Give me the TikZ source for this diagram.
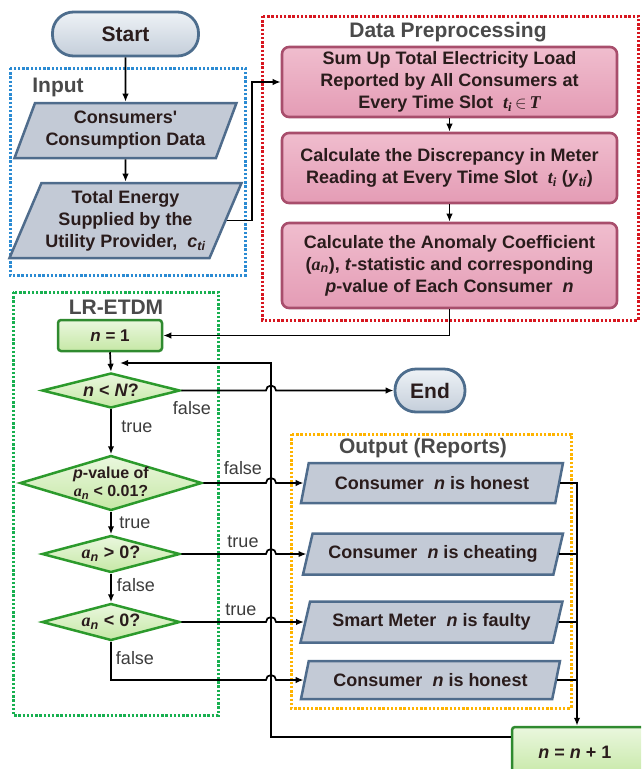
\documentclass[tikz,border=0pt]{standalone}
\usepackage{fontspec}
\setmainfont{Liberation Sans}
\newfontfamily\serfam{Liberation Serif}
\newcommand\servar[1]{{\serfam\bfseries\itshape #1}}
\usetikzlibrary{shapes.geometric,arrows.meta,calc}
\definecolor{txt}{HTML}{2A1C1C}
\definecolor{pillb}{HTML}{4D6D8D}
\definecolor{pilltop}{HTML}{EEF2F6}
\definecolor{pillbot}{HTML}{C4CEDA}
\definecolor{pgb}{HTML}{4F6C8C}
\definecolor{pgf}{HTML}{C3CAD6}
\definecolor{pkb}{HTML}{A84E6C}
\definecolor{pktop}{HTML}{F0BDCE}
\definecolor{pkbot}{HTML}{E49CB5}
\definecolor{grb}{HTML}{2C9A2C}
\definecolor{grtop}{HTML}{EAF7DE}
\definecolor{grbot}{HTML}{C6E8A6}
\definecolor{gbb}{HTML}{2F8A2F}
\definecolor{fblue}{HTML}{2B8BD3}
\definecolor{fred}{HTML}{D7161F}
\definecolor{fgreen}{HTML}{18B050}
\definecolor{forange}{HTML}{FFB400}
\definecolor{ttlc}{HTML}{4A4A4A}
\definecolor{lblc}{HTML}{3C3C3C}
\begin{document}
\begin{tikzpicture}[x=1pt,y=-1pt,
  every node/.style={text=txt, font=\bfseries\fontsize{18}{22}\selectfont, align=center, inner sep=1pt},
  pill/.style={rectangle, rounded corners=21pt, draw=pillb, line width=2.8pt, top color=pilltop, bottom color=pillbot, font=\bfseries\fontsize{21}{24}\selectfont},
  pgram/.style={trapezium, trapezium left angle=63, trapezium right angle=117, trapezium stretches body, draw=pgb, fill=pgf, line width=2.5pt},
  pinkbox/.style={rectangle, rounded corners=7pt, draw=pkb, line width=2.6pt, top color=pktop, bottom color=pkbot, minimum width=335pt},
  decbox/.style={diamond, draw=grb, line width=2.5pt, top color=grtop, bottom color=grbot, inner sep=0pt, font=\bfseries\fontsize{18}{20}\selectfont},
  gbox/.style={rectangle, rounded corners=3pt, draw=gbb, line width=2.5pt, top color=grtop, bottom color=grbot},
  dotframe/.style={line width=3pt, dash pattern=on 2.4pt off 1.8pt},
  ttl/.style={text=ttlc, font=\bfseries\fontsize{21}{24}\selectfont},
  lbl/.style={text=lblc, font=\fontsize{18}{20}\selectfont},
  arr/.style={line width=1.7pt, -{Latex[length=8pt,width=6.5pt]}},
  ln/.style={line width=1.7pt}
]
\useasboundingbox (0,0) rectangle (641,769);
\clip (0,0) rectangle (641,769);

% frames
\draw[dotframe, draw=fblue] (10,68) rectangle (245,275);
\draw[dotframe, draw=fred] (262,16) rectangle (638,320);
\draw[dotframe, draw=fgreen] (13,292) rectangle (218,715);
\draw[dotframe, draw=forange] (291,434) rectangle (571,708);

\node[ttl] (tin) at (58,87) {Input};
\node[ttl] (tdp) at (448,32) {Data Preprocessing};
\node[ttl] (tlr) at (116,307) {LR-ETDM};
\node[ttl] (tout) at (423,448) {Output (Reports)};

% coordinates
\coordinate (lx) at (271,363);
\coordinate (jx) at (252,82);
\coordinate (rx) at (577,700);
\coordinate (lend) at (120,363);

% nodes
\node[pill, minimum width=146pt, minimum height=44pt] (start) at (125.5,34) {Start};
\node[pgram, minimum width=222pt, minimum height=55pt] (in1) at (125.5,130.5) {Consumers\textquotesingle\\Consumption Data};
\node[pgram, minimum width=232pt, minimum height=75pt] (in2) at (125.5,220.5) {Total Energy\\Supplied by the\\Utility Provider,~~\textit{c}\textsubscript{\textit{ti}}};

\node[pinkbox, minimum height=70pt] (b1) at (449.5,82) {Sum Up Total Electricity Load\\Reported by All Consumers at\\Every Time Slot~~\servar{t}\textsubscript{\servar{i}}\,$\in$\,\servar{T}};
\node[pinkbox, minimum height=70pt] (b2) at (449.5,168) {Calculate the Discrepancy in Meter\\Reading at Every Time Slot~~\servar{t}\textsubscript{\servar{i}} (\textit{y}\textsubscript{\textit{ti}})};
\node[pinkbox, minimum height=85pt] (b3) at (449.5,265.5) {Calculate the Anomaly Coefficient\\({\serfam\itshape a}\textsubscript{\textit{n}}), \textit{t}-statistic and corresponding\\\textit{p}-value of Each Consumer~~\textit{n}};

\node[gbox, minimum width=104pt, minimum height=31pt, font=\bfseries\fontsize{17}{20}\selectfont] (n1) at (110,335.5) {\textit{n} = 1};
\node[decbox, minimum width=138pt, minimum height=35pt, aspect=3.9] (d1) at (111,390.5) {\textit{n} < \textit{N}?};
\node[decbox, minimum width=182pt, minimum height=55pt, aspect=3.3, font=\bfseries\fontsize{16}{18}\selectfont, inner sep=-3pt] (d2) at (111,483) {\textit{p}-value of\\{\serfam\itshape a}\textsubscript{\textit{n}} < 0.01?};
\node[decbox, minimum width=138pt, minimum height=37pt, aspect=3.7] (d3) at (111,554) {{\serfam\itshape a}\textsubscript{\textit{n}} > 0?};
\node[decbox, minimum width=138pt, minimum height=37pt, aspect=3.7] (d4) at (111,622) {{\serfam\itshape a}\textsubscript{\textit{n}} < 0?};

\node[pill, minimum width=70pt, minimum height=43pt] (end) at (430,390.5) {End};

\node[pgram, minimum width=262pt, minimum height=40pt] (o1) at (432,483) {Consumer~~\textit{n} is honest};
\node[pgram, minimum width=260pt, minimum height=41pt] (o2) at (433,554) {Consumer~~\textit{n} is cheating};
\node[pgram, minimum width=262pt, minimum height=41pt] (o3) at (431.5,622) {Smart Meter~~\textit{n} is faulty};
\node[pgram, minimum width=259pt, minimum height=38pt] (o4) at (430.5,680) {Consumer~~\textit{n} is honest};

\node[gbox, minimum width=140pt, minimum height=50pt] (n2) at (582,752) {\makebox[0pt]{\textit{n} = \textit{n} + 1}\hspace{14pt}};

% connectors
\draw[arr] (start.south) -- (in1.north);
\draw[arr] (in1.south) -- (in2.north);
\draw[arr] (in2.right side) -| (jx) -- (b1.west);
\draw[arr] (b1.south) -- (b2.north);
\draw[arr] (b2.south) -- (b3.north);
\draw[arr] (b3.south) |- (n1.east);
\draw[arr] (n1.south) -- (d1.north);
\draw[arr] (d1.south) -- (d2.north);
\draw[arr] (d2.south) -- (d3.north);
\draw[arr] (d3.south) -- (d4.north);

\draw[arr] (d1.east) -- ($(lx |- d1.east)+(-5pt,0)$) arc[start angle=180,end angle=0,radius=5pt] -- (end.west);
\draw[arr] (d2.east) -- ($(lx |- d2.east)+(-5pt,0)$) arc[start angle=180,end angle=0,radius=5pt] -- (o1.left side);
\draw[arr] (d3.east) -- ($(lx |- d3.east)+(-5pt,0)$) arc[start angle=180,end angle=0,radius=5pt] -- (o2.left side);
\draw[arr] (d4.east) -- ($(lx |- d4.east)+(-5pt,0)$) arc[start angle=180,end angle=0,radius=5pt] -- (o3.left side);
\draw[arr] (d4.south) |- ($(lx |- o4.left side)+(-5pt,0)$) arc[start angle=180,end angle=0,radius=5pt] -- (o4.left side);

\draw[arr] (o1.right side) -- (o1.right side -| rx) -- (rx |- n2.north);
\draw[ln] (o2.right side) -- (o2.right side -| rx);
\draw[ln] (o3.right side) -- (o3.right side -| rx);
\draw[ln] (o4.right side) -- (o4.right side -| rx);

\draw[arr] ([yshift=15pt]n2.west) -| (lx) -- (lend);

% labels
\node[lbl] (f1) at (192,408) {false};
\node[lbl] (t1) at (137,427) {true};
\node[lbl] (f2) at (243,468) {false};
\node[lbl] (t2) at (135,523) {true};
\node[lbl] (t3) at (243,542) {true};
\node[lbl] (f3) at (136,585) {false};
\node[lbl] (t4) at (241,610) {true};
\node[lbl] (f4) at (135,658) {false};
\end{tikzpicture}
\end{document}
